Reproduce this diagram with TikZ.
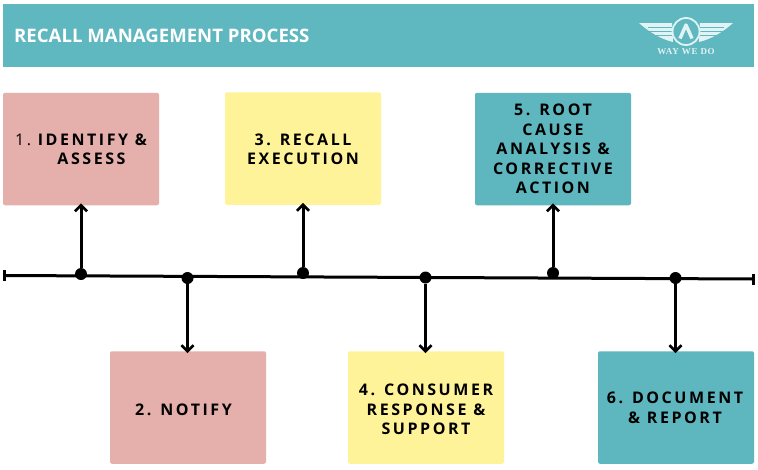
\documentclass[tikz,border=0pt]{standalone}
\usepackage{fontspec}
\usepackage{xcolor}
\usetikzlibrary{arrows.meta}
\setmainfont{Open Sans}
\newfontfamily\spacedfont[LetterSpace=16]{Open Sans}
\newfontfamily\logofont[LetterSpace=8]{Liberation Serif}
\definecolor{headerteal}{RGB}{95, 183, 191}
\definecolor{stepred}{RGB}{229, 175, 171}
\definecolor{stepyellow}{RGB}{255, 243, 153}
\definecolor{stepteal}{RGB}{94, 183, 191}
\definecolor{wingwhite}{RGB}{226, 243, 245}
\tikzset{
    stepbox/.style={minimum width=156pt, minimum height=112.5pt, rounded corners=2pt, inner sep=0pt, align=center, text=black, font=\spacedfont\bfseries\fontsize{16}{19.6}\selectfont},
    tick/.style={circle, fill=black, inner sep=0pt, minimum size=12pt},
    timeline/.style={line width=3pt, black},
    link/.style={line width=3pt, black, -{Straight Barb[length=6pt, width=12pt, line width=2.6pt]}},
}
\begin{document}
\begin{tikzpicture}[x=1pt, y=-1pt]
    \useasboundingbox (0,0) rectangle (758,469);
    % header
    \fill[white] (0,0) rectangle (758,469);
    \node[fill=headerteal, minimum width=751pt, minimum height=63pt, inner sep=0pt] (header) at (378.5,35.5) {};
    \node[white, anchor=west, inner sep=0pt, font=\bfseries\fontsize{18.6}{20}\selectfont] (title) at (14,35.5) {RECALL MANAGEMENT PROCESS};
    % logo
    \fill[wingwhite] (639,23) -- (672,23) -- (673,42) .. controls (660,39) and (648,31) .. (639,23);
    \fill[wingwhite] (733,23) -- (700,23) -- (699,42) .. controls (712,39) and (724,31) .. (733,23);
    \foreach \yy in {27,31,35} {
        \draw[headerteal, line width=0.6pt] (648,\yy) -- (724,\yy);
    }
    \node[circle, draw=wingwhite, fill=headerteal, line width=1.8pt, minimum size=27pt, inner sep=0pt] (logoring) at (686,31.5) {};
    \draw[wingwhite, line width=3.4pt, line join=round] (680,38.5) -- (686,25) -- (692,38.5);
    \node[wingwhite, inner sep=0pt, font=\logofont\bfseries\fontsize{9}{10}\selectfont] (logotext) at (686,52) {WAY WE DO};
    % steps
    \node[stepbox, fill=stepred] (box1) at (81,149) {\rule{0pt}{12.4pt}{\mdseries 1.\ }IDENTIFY \&\\\hspace*{21pt}ASSESS};
    \node[stepbox, fill=stepred] (box2) at (188,407.5) {\rule{0pt}{15.5pt}2. NOTIFY\hspace*{9pt}};
    \node[stepbox, fill=stepyellow] (box3) at (303,148.5) {\rule{0pt}{13.5pt}3. RECALL\\EXECUTION};
    \node[stepbox, fill=stepyellow] (box4) at (426,407.5) {\rule{0pt}{15.5pt}4. CONSUMER\\RESPONSE \&\\SUPPORT};
    \node[stepbox, fill=stepteal] (box5) at (553,149) {5. ROOT\\CAUSE\\ANALYSIS \&\\CORRECTIVE\\ACTION};
    \node[stepbox, fill=stepteal] (box6) at (676,407.5) {6. DOCUMENT\hspace*{2pt}\\\& REPORT\hspace*{2pt}};
    % timeline
    \coordinate (start) at (4,275.5);
    \coordinate (end) at (753,279);
    \draw[timeline] (start) -- (end);
    \draw[timeline] ([yshift=-5.5pt]start) -- ([yshift=5.5pt]start);
    \draw[timeline] ([yshift=-5.5pt]end) -- ([yshift=5.5pt]end);
    \node[tick] (tick1) at (81,274) {};
    \node[tick] (tick2) at (187.5,278) {};
    \node[tick] (tick3) at (303,273) {};
    \node[tick] (tick4) at (425.5,277.5) {};
    \node[tick] (tick5) at (553,273) {};
    \node[tick] (tick6) at (675.5,278) {};
    \draw[link] (tick1) -- ([yshift=2pt]tick1 |- box1.south);
    \draw[link] (tick2) -- ([yshift=-2pt]tick2 |- box2.north);
    \draw[link] (tick3) -- ([yshift=2pt]tick3 |- box3.south);
    \draw[link] (tick4) -- ([yshift=-2pt]tick4 |- box4.north);
    \draw[link] (tick5) -- ([yshift=2pt]tick5 |- box5.south);
    \draw[link] (tick6) -- ([yshift=-2pt]tick6 |- box6.north);
\end{tikzpicture}
\end{document}
